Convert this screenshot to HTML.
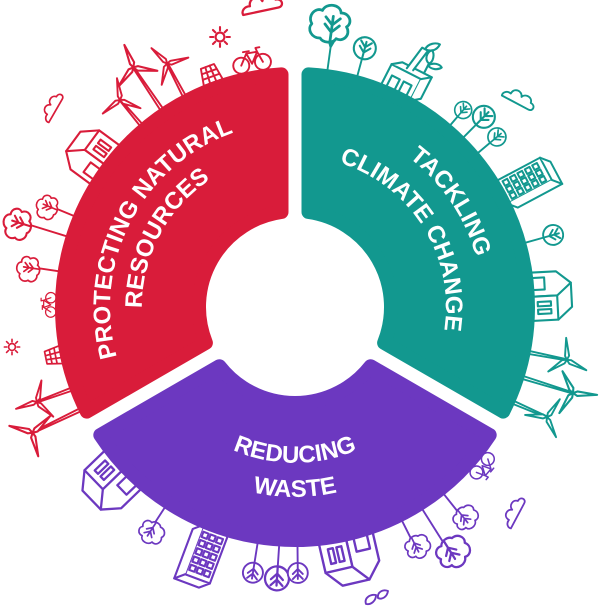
<!DOCTYPE html>
<html><head><meta charset="utf-8"><style>
html,body{margin:0;padding:0;background:#fff;}
svg{display:block;}
</style></head><body>
<svg width="600" height="611" viewBox="0 0 600 611" xmlns="http://www.w3.org/2000/svg">
<defs>
<g id="bush"><path d="M-8,9c-6,1-10-5-7-9c-4-5,1-12,6-10c2-6,12-6,13,0c6-1,9,6,5,9c4,5-1,11-6,9c-2,4-9,4-11,1z"/><path d="M-1,11V-7M-6,-1L-1,4L4,-1M-6,-6L-1,-1L4,-6" fill="none"/></g>
<g id="rtree"><circle r="10"/><path d="M0,10V-6M-5,-1L0,4L5,-1M-5,-6L0,-1L5,-6" fill="none"/></g>
<g id="blades"><path d="M0,0L2.5,-4L0.8,-22L-1.6,-4Z"/><path d="M0,0L2.5,-4L0.8,-22L-1.6,-4Z" transform="rotate(120)"/><path d="M0,0L2.5,-4L0.8,-22L-1.6,-4Z" transform="rotate(240)"/></g>
<g id="bike"><circle cx="-11" cy="-8" r="8"/><circle cx="11" cy="-8" r="8"/><path d="M-11,-8L-4,-19H7L11,-8M-4,-19L0,-8L7,-19M-7,-21H-1M7,-19L6,-23H10" fill="none"/></g>
<g id="panel"><path d="M-10,0H10L7,-17H-7Z"/><path d="M-8.5,-6H8.5M-7.8,-11.5H7.8M-3.3,0L-2.3,-17M3.3,0L2.3,-17" fill="none"/></g>
<g id="sun"><circle r="4"/><path d="M0,-6V-9M0,6V9M-6,0H-9M6,0H9M4.2,4.2L6.4,6.4M-4.2,-4.2L-6.4,-6.4M4.2,-4.2L6.4,-6.4M-4.2,4.2L-6.4,6.4" fill="none"/></g>
<g id="cloud"><path d="M-16,0H14C19,0 19,-7 13,-7C12,-13 4,-13 2,-8C0,-14 -9,-13 -9,-6C-14,-7 -17,-3 -16,0Z"/></g>
<g id="house"><path d="M-20,0V-24L-9,-37L2,-24V0Z"/><path d="M2,0H24V-24H2Z"/><path d="M-9,-37H13L24,-24"/><path d="M-15,0V-13H-4V0Z"/><path d="M7,-6V-18H11V-6ZM14,-6V-18H18V-6Z"/></g>
<g id="tower"><path d="M-16,0H8V-48H-16Z"/><path d="M8,0L16,-7V-55L8,-48"/><path d="M-16,-48L-8,-55H16"/><path d="M-13,-43h5v5h-5zM-6,-43h5v5h-5zM1,-43h5v5h-5zM-13,-35h5v5h-5zM-6,-35h5v5h-5zM1,-35h5v5h-5zM-13,-27h5v5h-5zM-6,-27h5v5h-5zM1,-27h5v5h-5zM-13,-19h5v5h-5zM-6,-19h5v5h-5zM1,-19h5v5h-5zM-13,-11h5v5h-5zM-6,-11h5v5h-5zM1,-11h5v5h-5z"/></g>
<g id="factory"><path d="M-22,0V-22H8V0Z"/><path d="M8,0L16,-6V-28L8,-22"/><path d="M-22,-22L-14,-28H16"/><path d="M-17,0V-13H-9V0ZM-5,0V-13H3V0Z"/><path d="M-8,-25L-4,-48H2L-2,-26"/><path d="M-1,-48c0,-6 6,-10 10,-10c0,6 -4,10 -10,10z"/><path d="M8,-28V-38" fill="none"/><path d="M8,-38c-5,-1 -7,-8 -3,-12c4,2 6,9 3,12z"/><path d="M8,-36c3,-5 9,-6 12,-4c-2,4 -8,6 -12,4z"/></g>
<path id="p1" d="M182.4,453.8 A185,185 0 0 1 350.6,130.6"/>
<path id="p2" d="M200.8,427.6 A153,153 0 0 1 342.3,161.5"/>
<path id="p3" d="M218.5,135.3 A188,188 0 0 1 425.6,442.2"/>
<path id="p4" d="M238.4,167 A151,151 0 0 1 396,419.2"/>
<path id="p5" d="M141.4,334.1 A156,156 0 0 0 448.6,334.1"/>
<path id="p6" d="M107.9,340 A190,190 0 0 0 482.1,340"/>
</defs>

<g fill="#fff" stroke-width="1.9" stroke-linecap="round" stroke-linejoin="round">
<!-- RED icons -->
<g stroke="#d91c3a">
  <use href="#cloud" transform="translate(262,11) rotate(-12) scale(1.2)"/>
  <use href="#sun" transform="translate(220,37) scale(1.1)"/>
  <use href="#bike" transform="translate(295,307) rotate(-10) translate(0,-239)"/>
  <use href="#panel" transform="translate(295,307) rotate(-20) translate(0,-239)"/>
  <g transform="translate(295,307) rotate(-27.7)"><path d="M-1.6,-236L-0.6,-275M1.6,-236L0.6,-275" fill="none"/><use href="#blades" transform="translate(0,-275) rotate(-20)"/></g>
  <g transform="translate(295,307) rotate(-34)"><path d="M-1.6,-236L-0.6,-289M1.6,-236L0.6,-289" fill="none"/><use href="#blades" transform="translate(0,-289) rotate(10) scale(1.1)"/></g>
  <g transform="translate(295,307) rotate(-40.2)"><path d="M-1.6,-236L-0.6,-271M1.6,-236L0.6,-271" fill="none"/><use href="#blades" transform="translate(0,-271) rotate(30)"/></g>
  <use href="#cloud" transform="translate(56,110) rotate(-60) scale(0.9)"/>
  <use href="#house" transform="translate(295,307) rotate(-53.7) translate(0,-236) scale(1.1)"/>
  <g transform="translate(295,307) rotate(-67.6)"><path d="M0,-236V-256" fill="none"/><use href="#bush" transform="translate(0,-266) scale(0.85)"/></g>
  <g transform="translate(295,307) rotate(-72.8)"><path d="M0,-236V-276" fill="none"/><use href="#bush" transform="translate(0,-288) scale(1.1)"/></g>
  <g transform="translate(295,307) rotate(-81.4)"><path d="M0,-236V-258" fill="none"/><use href="#bush" transform="translate(0,-268) scale(0.9)"/></g>
  <use href="#bike" transform="translate(295,307) rotate(-89.5) translate(0,-239) scale(0.65)"/>
  <use href="#sun" transform="translate(12,347) scale(0.85)"/>
  <use href="#panel" transform="translate(295,307) rotate(-101.5) translate(0,-239) scale(0.9)"/>
  <g transform="translate(295,307) rotate(-110.2)"><path d="M-1.6,-236L-0.6,-275M1.6,-236L0.6,-275" fill="none"/><use href="#blades" transform="translate(0,-275) rotate(0)"/></g>
  <g transform="translate(295,307) rotate(-115.6)"><path d="M-1.6,-236L-0.6,-291M1.6,-236L0.6,-291" fill="none"/><use href="#blades" transform="translate(0,-291) rotate(40) scale(1.1)"/></g>
</g>
<!-- TEAL icons -->
<g stroke="#12988f">
  <g transform="translate(295,307) rotate(7.8)"><path d="M0,-236V-268M0,-262L-6,-276M0,-262L5,-274" fill="none"/><use href="#bush" transform="translate(0,-283) scale(1.45)"/></g>
  <g transform="translate(295,307) rotate(15.1)"><path d="M0,-236V-257" fill="none"/><use href="#rtree" transform="translate(0,-268) scale(1.1)"/></g>
  <use href="#factory" transform="translate(295,307) rotate(27) translate(0,-236) scale(1.1)"/>
  <use href="#cloud" transform="translate(516,103) rotate(28) scale(1)"/>
  <g transform="translate(295,307) rotate(40.5)"><path d="M0,-236V-250" fill="none"/><use href="#rtree" transform="translate(0,-259) scale(0.85)"/></g>
  <g transform="translate(295,307) rotate(44.8)"><path d="M0,-236V-257" fill="none"/><use href="#rtree" transform="translate(0,-268) scale(1.1)"/></g>
  <g transform="translate(295,307) rotate(49.9)"><path d="M0,-236V-255" fill="none"/><use href="#rtree" transform="translate(0,-264) scale(0.9)"/></g>
  <use href="#tower" transform="translate(295,307) rotate(62) translate(0,-236) scale(1.05)"/>
  <g transform="translate(295,307) rotate(74.4)"><path d="M0,-236V-258" fill="none"/><use href="#rtree" transform="translate(0,-268) scale(1)"/></g>
  <use href="#house" transform="translate(295,307) rotate(87) translate(0,-236) scale(1.1)"/>
  <g transform="translate(295,307) rotate(101)"><path d="M-1.6,-236L-0.6,-277M1.6,-236L0.6,-277" fill="none"/><use href="#blades" transform="translate(0,-277) rotate(15)"/></g>
  <g transform="translate(295,307) rotate(107.2)"><path d="M-1.6,-236L-0.6,-291M1.6,-236L0.6,-291" fill="none"/><use href="#blades" transform="translate(0,-291) rotate(-15) scale(1.1)"/></g>
  <g transform="translate(295,307) rotate(113.6)"><path d="M-1.6,-236L-0.6,-275M1.6,-236L0.6,-275" fill="none"/><use href="#blades" transform="translate(0,-275) rotate(40)"/></g>
</g>
<!-- PURPLE icons -->
<g stroke="#6c38c0">
  <use href="#house" transform="translate(295,307) rotate(-134) translate(0,-236) scale(1.2)"/>
  <g transform="translate(295,307) rotate(-147)"><path d="M0,-236V-257" fill="none"/><use href="#bush" transform="translate(0,-266) scale(0.9)"/></g>
  <use href="#tower" transform="translate(295,307) rotate(-159.4) translate(0,-236) scale(1.1)"/>
  <g transform="translate(295,307) rotate(-171)"><path d="M0,-236V-259" fill="none"/><use href="#rtree" transform="translate(0,-269)"/></g>
  <g transform="translate(295,307) rotate(-176.2)"><path d="M0,-236V-260" fill="none"/><use href="#rtree" transform="translate(0,-272) scale(1.2)"/></g>
  <g transform="translate(295,307) rotate(179.4)"><path d="M0,-236V-256" fill="none"/><use href="#rtree" transform="translate(0,-266)"/></g>
  <use href="#house" transform="translate(295,307) rotate(167) translate(0,-236) scale(1.25)"/>
  <path d="M366,604c-2,-6 4,-10 10,-9c0,6 -5,10 -10,9zM378,598c-1,-6 5,-9 10,-7c-1,6 -6,9 -10,7z"/>
  <g transform="translate(295,307) rotate(141.5)"><path d="M0,-236V-260" fill="none"/><use href="#bush" transform="translate(0,-270) scale(0.9)"/></g>
  <g transform="translate(295,307) rotate(147.8)"><path d="M0,-236V-276" fill="none"/><use href="#bush" transform="translate(0,-290) scale(1.2)"/></g>
  <g transform="translate(295,307) rotate(153.4)"><path d="M0,-236V-258" fill="none"/><use href="#bush" transform="translate(0,-268) scale(0.9)"/></g>
  <use href="#bike" transform="translate(295,307) rotate(130.3) translate(0,-239) scale(0.8)"/>
  <use href="#cloud" transform="translate(518,515) rotate(-62) scale(0.95)"/>
</g>
</g>

<!-- Ring segments -->
<g stroke-width="14" stroke-linejoin="round">
  <path d="M281.5,74.4 A233,233 0 0 0 86.8,411.6 L205.9,342.8 A96,96 0 0 1 281.5,212 Z" fill="#d91c3a" stroke="#d91c3a"/>
  <path d="M308.5,74.4 A233,233 0 0 1 503.2,411.6 L384.1,342.8 A96,96 0 0 0 308.5,212 Z" fill="#12988f" stroke="#12988f"/>
  <path d="M100.3,435 A233,233 0 0 0 489.7,435 L370.6,366.2 A96,96 0 0 1 219.4,366.2 Z" fill="#6c38c0" stroke="#6c38c0"/>
</g>

<!-- Labels -->
<g font-family="'Liberation Sans', Arial, sans-serif" font-weight="700" font-size="24" fill="#fff">
  <text><textPath href="#p1" startOffset="50%" text-anchor="middle">PROTECTING NATURAL</textPath></text>
  <text><textPath href="#p2" startOffset="50%" text-anchor="middle">RESOURCES</textPath></text>
  <text><textPath href="#p3" startOffset="50%" text-anchor="middle">TACKLING</textPath></text>
  <text><textPath href="#p4" startOffset="50%" text-anchor="middle">CLIMATE CHANGE</textPath></text>
  <text><textPath href="#p5" startOffset="50%" text-anchor="middle">REDUCING</textPath></text>
  <text><textPath href="#p6" startOffset="50%" text-anchor="middle">WASTE</textPath></text>
</g>
</svg>
</body></html>
